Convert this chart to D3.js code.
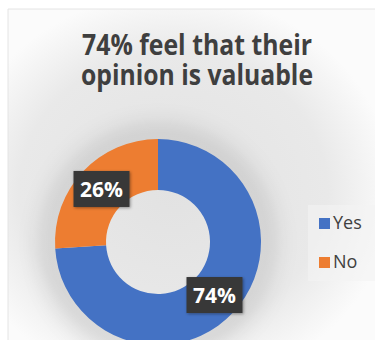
<!DOCTYPE html>
<html>
<head>
<meta charset="utf-8">
<script src="https://cdn.jsdelivr.net/npm/d3@7"></script>
<style>
  html, body { margin: 0; padding: 0; background: #fff; }
  #chart { width: 375px; height: 340px; }
</style>
</head>
<body>
<div id="chart"></div>
<script>
const categories = ["Yes", "No"];
const values = [74, 26];
const colors = ["#4472C4", "#ED7D31"];
const titleLines = ["74% feel that their", "opinion is valuable"];

document.addEventListener('DOMContentLoaded', function () {
    const width = 375, height = 340;

    const svg = d3.select("#chart")
        .append("svg")
        .attr("width", width)
        .attr("height", height);

    const defs = svg.append("defs");

    const bg = defs.append("radialGradient")
        .attr("id", "bg")
        .attr("cx", "0.45").attr("cy", "0.55").attr("r", "0.6");
    bg.append("stop").attr("offset", "0%").attr("stop-color", "#e2e2e2");
    bg.append("stop").attr("offset", "70%").attr("stop-color", "#e9e9e9");
    bg.append("stop").attr("offset", "100%").attr("stop-color", "#fbfbfb");

    const shadow = defs.append("filter")
        .attr("id", "soft")
        .attr("x", "-50%").attr("y", "-50%")
        .attr("width", "200%").attr("height", "200%");
    shadow.append("feGaussianBlur").attr("stdDeviation", 12);

    const boxShadow = defs.append("filter").attr("id", "boxShadow");
    boxShadow.append("feDropShadow")
        .attr("dx", 1).attr("dy", 1)
        .attr("stdDeviation", 1.5)
        .attr("flood-opacity", 0.4);

    // panel, only top and left edges show a faint line
    svg.append("rect")
        .attr("x", 8).attr("y", 9)
        .attr("width", width - 8).attr("height", height - 9)
        .attr("fill", "url(#bg)");
    svg.append("path")
        .attr("d", `M8,${height}V9H${width}`)
        .attr("fill", "none")
        .attr("stroke", "#e4e4e4");

    // title
    const title = svg.append("g");
    title.selectAll("text")
        .data(titleLines)
        .enter().append("text")
        .attr("x", 197)
        .attr("y", (d, i) => 55 + i * 30)
        .attr("text-anchor", "middle")
        .attr("textLength", (d, i) => i === 0 ? 230 : 232)
        .attr("lengthAdjust", "spacingAndGlyphs")
        .style("font-family", "'Open Sans', sans-serif")
        .style("font-weight", "bold")
        .style("font-size", "29px")
        .style("fill", "#3f3f3f")
        .text(d => d);

    // donut
    const cx = 158, cy = 242;
    const outer = 103, inner = 52;

    const pie = d3.pie().sort(null).value(d => d.value);
    const arc = d3.arc().innerRadius(inner).outerRadius(outer);

    const data = categories.map((c, i) => ({ name: c, value: values[i], color: colors[i] }));
    const arcs = pie(data);

    const g = svg.append("g").attr("transform", `translate(${cx},${cy})`);

    g.append("circle")
        .attr("r", outer + 4)
        .attr("fill", "none")
        .attr("stroke", "#000")
        .attr("stroke-opacity", 0.18)
        .attr("stroke-width", 14)
        .attr("filter", "url(#soft)");

    g.selectAll(".slice")
        .data(arcs)
        .enter().append("path")
        .attr("class", "slice")
        .attr("d", arc)
        .attr("fill", d => d.data.color);

    // data labels
    const labels = g.selectAll(".label")
        .data(arcs)
        .enter().append("g")
        .attr("class", "label")
        .attr("transform", d => `translate(${arc.centroid(d)})`);

    labels.append("rect")
        .attr("x", -28).attr("y", -18)
        .attr("width", 56).attr("height", 36)
        .attr("fill", "#383838")
        .attr("filter", "url(#boxShadow)");

    labels.append("text")
        .attr("y", 8)
        .attr("text-anchor", "middle")
        .style("font-family", "'Open Sans', sans-serif")
        .style("font-weight", "bold")
        .style("font-size", "21px")
        .style("fill", "#fff")
        .text(d => d.data.value + "%");

    // legend
    const legend = svg.append("g");
    legend.append("rect")
        .attr("x", 308).attr("y", 205)
        .attr("width", 67).attr("height", 76)
        .attr("fill", "#f4f4f4")
        .attr("opacity", 0.6);

    const items = legend.selectAll(".item")
        .data(data)
        .enter().append("g")
        .attr("class", "item")
        .attr("transform", (d, i) => `translate(319,${218 + i * 39})`);

    items.append("rect")
        .attr("width", 11).attr("height", 11)
        .attr("fill", d => d.color);

    items.append("text")
        .attr("x", 14).attr("y", 11)
        .style("font-family", "'Open Sans', sans-serif")
        .style("font-size", "18px")
        .style("fill", "#404040")
        .text(d => d.name);
});
</script>
</body>
</html>
